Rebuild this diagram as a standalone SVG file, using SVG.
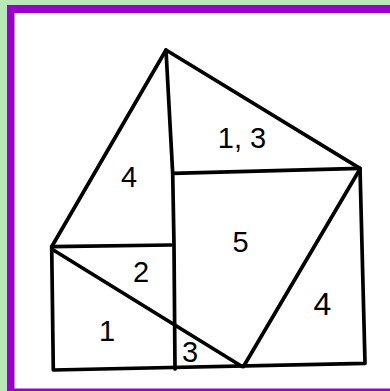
<svg xmlns="http://www.w3.org/2000/svg" width="390" height="391" viewBox="0 0 390 391">
<style>
.ln{fill:none;stroke:#000;stroke-width:3.7;stroke-linecap:round;stroke-linejoin:round}
.lb{font-family:"Liberation Sans",Arial,sans-serif;font-size:29px;fill:#000;text-anchor:middle}
</style>
<rect x="0" y="0" width="390" height="391" fill="#b8e8b8"/>
<rect x="7" y="5" width="383" height="386" fill="#9900cc"/>
<rect x="14.5" y="13" width="375.5" height="375.5" fill="#ffffff"/>
<g id="connectors">
<path class="ln" d="M166,50 L51.7,246.7 L53.3,370 L365,363.3 L360,168.3 Z"/>
<path class="ln" d="M166,50 L172.7,173.3 L174,245 L175,369"/>
<path class="ln" d="M172.7,173.3 L360,168.3"/>
<path class="ln" d="M51.7,246.7 L171,245"/>
<path class="ln" d="M51.7,249 L242,366.5"/>
<path class="ln" d="M360,169 L243.5,366.5"/>
</g>
<g id="n4a"><text class="lb" x="129" y="187">4</text></g>
<g id="n13"><text class="lb" x="242" y="148">1, 3</text></g>
<g id="n5"><text class="lb" x="240.5" y="252">5</text></g>
<g id="n2"><text class="lb" x="141" y="282">2</text></g>
<g id="n1"><text class="lb" x="107" y="341">1</text></g>
<g id="n3"><text class="lb" x="190" y="362">3</text></g>
<g id="n4b"><text class="lb" x="322.5" y="315" style="font-size:32px">4</text></g>
</svg>
